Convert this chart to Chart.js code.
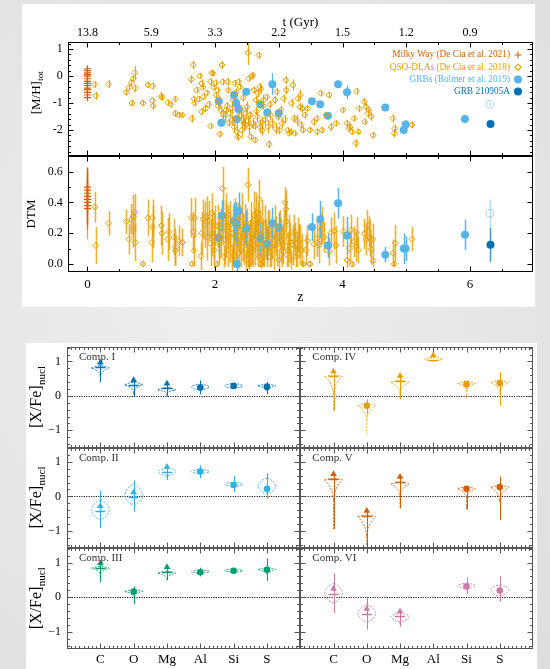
<!DOCTYPE html>
<html><head><meta charset="utf-8">
<title>Chart</title>
<script src="https://cdn.jsdelivr.net/npm/chart.js@4.4.1/dist/chart.umd.min.js"></script>
<style>
html,body{margin:0;padding:0}
body{width:550px;height:669px;position:relative;overflow:hidden;background:radial-gradient(ellipse at 40% 45%,#efefef 0%,#e6e6e6 60%,#dddddd 100%)}
.box{position:absolute;background:#fff}
canvas{position:absolute;left:0;top:0}
</style></head><body>
<div class="box" style="left:22px;top:4px;width:513px;height:303px"></div>
<div class="box" style="left:26px;top:343px;width:511px;height:326px"></div>
<canvas id="cMH" width="550" height="669"></canvas>
<canvas id="cDTM" width="550" height="669"></canvas>
<canvas id="p0" width="550" height="669"></canvas>
<canvas id="p1" width="550" height="669"></canvas>
<canvas id="p2" width="550" height="669"></canvas>
<canvas id="p3" width="550" height="669"></canvas>
<canvas id="p4" width="550" height="669"></canvas>
<canvas id="p5" width="550" height="669"></canvas>
<script>
// ---------------- DATA ----------------
const zTicksTop = [0,1,2,3,4,5,6];
const tLabels = ['13.8','5.9','3.3','2.2','1.5','1.2','0.9'];
const zTicksBottom = [0,2,4,6];
const mhTicks = [-2,-1,0,1];
const dtmTicks = [0,0.2,0.4,0.6];
const xfeTicks = [-1,0,1];
const legendLabels = ['Milky Way (De Cia et al. 2021)','QSO-DLAs (De Cia et al. 2018)','GRBs (Bolmer et al. 2019)','GRB 210905A'];

// [z, [M/H]tot, err]
const mwMH = [[0,0.27,0.05],[0,0.2,0.05],[0,0.12,0.05],[0,0.05,0.05],[0,0,0.05],[0,-0.1,0.05],[0,-0.2,0.05],[0,-0.27,0.05],[0,-0.35,0.05],[0,-0.45,0.05],[0,-0.5,0.05],[0,-0.6,0.05],[0,-0.7,0.05],[0,-0.8,0.05]];
const qsoMH = [[0.115,-0.31,0.12],[0.13,-0.73,0.15],[0.33,-0.30,0.15],[0.61,-0.60,0.12],[0.65,-0.42,0.1],[0.69,-0.25,0.12],[0.70,-1.00,0.12],[0.72,-0.10,0.1],[0.74,0.12,0.25],[0.75,-0.45,0.15],[0.87,-1.00,0.1],[0.95,-0.33,0.1],[1.02,-0.37,0.12],[1.02,-0.90,0.1],[1.03,-1.10,0.15],[1.16,-0.74,0.15],[1.17,-0.80,0.1],[1.26,-0.98,0.1],[1.31,-1.05,0.1],[1.38,-0.85,0.1],[1.38,-1.38,0.12],[1.43,-1.44,0.1],[1.49,-1.44,0.1],[1.63,-0.12,0.15],[1.64,-1.57,0.15],[1.66,0.41,0.15],[1.67,-0.86,0.12],[1.68,-1.00,0.12],[1.76,0.00,0.1],[1.79,-0.27,0.15],[1.81,-0.42,0.1],[1.79,-1.32,0.12],[1.82,-0.77,0.1],[1.87,-0.62,0.1],[1.93,-1.85,0.1],[1.95,0.12,0.1],[1.97,0.10,0.1],[1.93,-0.21,0.15],[1.98,-0.42,0.1],[2.01,-0.25,0.12],[2.04,-0.52,0.1],[2.06,-0.89,0.15],[2.08,-2.15,0.1],[2.09,-1.26,0.15],[2.11,0.41,0.15],[2.12,-0.21,0.12],[2.15,-1.50,0.2],[2.17,-1.26,0.1],[2.20,-0.21,0.15],[2.21,-0.52,0.1],[2.23,-1.38,0.15],[2.26,-1.63,0.2],[2.28,-0.89,0.2],[2.30,-1.88,0.2],[2.31,-0.27,0.12],[2.34,-2.06,0.25],[2.36,-2.25,0.15],[2.37,-0.21,0.12],[2.39,-0.40,0.1],[2.41,-1.26,0.2],[2.42,-2.00,0.3],[2.45,-1.75,0.25],[2.48,-1.38,0.2],[2.50,-1.14,0.2],[2.52,0.86,0.45],[2.53,-0.09,0.1],[2.54,-1.88,0.3],[2.56,-2.25,0.1],[2.58,-0.02,0.1],[2.59,0.04,0.1],[2.61,-0.52,0.12],[2.63,-2.37,0.1],[2.64,-0.89,0.15],[2.66,-1.50,0.2],[2.67,-0.64,0.15],[2.69,0.77,0.12],[2.70,-0.40,0.15],[2.71,-1.88,0.25],[2.72,-0.49,0.15],[2.74,-2.00,0.2],[2.76,-0.89,0.2],[2.78,-1.63,0.2],[2.81,-0.77,0.12],[2.83,-1.88,0.25],[2.85,-2.52,0.15],[2.87,-1.44,0.2],[2.90,-1.75,0.2],[2.94,-0.89,0.15],[2.97,-0.58,0.15],[2.99,-1.50,0.15],[3.01,-2.00,0.15],[3.03,-1.26,0.15],[3.05,-1.75,0.2],[3.08,-0.83,0.15],[3.11,-0.15,0.15],[3.12,-0.52,0.15],[3.14,-2.00,0.1],[3.16,-2.12,0.1],[3.19,-2.06,0.12],[3.22,-0.33,0.2],[3.24,-1.57,0.15],[3.25,-2.12,0.1],[3.28,-1.63,0.2],[3.30,-0.83,0.12],[3.33,-1.14,0.15],[3.34,-0.70,0.2],[3.37,-1.20,0.15],[3.38,-2.00,0.1],[3.41,-1.44,0.12],[3.45,-1.20,0.1],[3.49,-2.00,0.1],[3.55,-1.69,0.15],[3.60,-1.57,0.1],[3.60,-2.06,0.12],[3.66,-0.64,0.1],[3.68,-2.00,0.12],[3.74,-1.44,0.1],[3.79,-0.70,0.12],[3.82,-1.88,0.15],[3.90,-1.75,0.1],[4.01,-1.26,0.1],[4.07,-1.75,0.12],[4.10,-1.94,0.1],[4.12,-1.88,0.12],[4.15,-2.06,0.1],[4.18,-1.57,0.1],[4.21,-2.49,0.15],[4.22,-0.56,0.12],[4.25,-2.06,0.1],[4.26,-1.20,0.12],[4.34,-0.95,0.15],[4.35,-1.69,0.12],[4.37,-1.14,0.15],[4.40,-1.38,0.15],[4.41,-1.26,0.12],[4.45,-1.50,0.15],[4.48,-2.19,0.1],[4.79,-1.57,0.15],[4.81,-2.12,0.15],[4.82,-1.94,0.15],[5.09,-1.81,0.12],
[2.35,-1.55,0.15],[2.40,-1.45,0.2],[2.44,-1.60,0.2],[2.47,-1.80,0.2],[2.51,-1.65,0.2],[2.55,-1.45,0.15],[2.60,-1.75,0.2],[2.62,-1.85,0.15],[2.65,-1.30,0.15],[2.73,-1.70,0.2],[2.22,-1.72,0.15],[2.19,-1.10,0.15],[2.13,-1.40,0.15],[2.27,-1.20,0.2],[2.33,-0.60,0.15],[2.44,-0.80,0.15],[1.90,-1.05,0.12],[1.85,-1.20,0.12],[2.02,-0.70,0.1],[2.05,-1.10,0.12],[2.95,-1.95,0.2],[3.09,-1.60,0.15],[3.20,-1.00,0.15],[3.35,-1.80,0.12],[2.86,-1.05,0.15],[2.75,-1.10,0.15],[1.71,-0.52,0.12],[1.75,-0.85,0.1]];
const grbMH = [[2.06,-0.93,0.2],[2.10,-1.73,0.15],[2.30,-0.70,0.15],[2.33,-0.99,0.2],[2.34,-1.60,0.2],[2.37,-1.23,0.2],[2.49,-0.58,0.1],[2.71,-1.05,0.15],[2.82,-1.35,0.15],[2.90,-0.30,0.4],[3.00,-1.38,0.15],[3.52,-0.93,0.1],[3.65,-1.04,0.1],[3.77,-1.47,0.1],[3.93,-0.30,0.1],[4.07,-0.60,0.25],[4.67,-1.16,0.1],[4.96,-2.00,0.1],[4.99,-1.79,0.15],[5.92,-1.59,0.1]];
const grb210905aMH = [[6.32,-1.77,0.05]];
const grb210905aAltMH = [[6.31,-1.04,0.08]];

// [z, DTM, err]
const mwDTM = [[0,0.50,0.12],[0,0.48,0.15],[0,0.46,0.1],[0,0.44,0.18],[0,0.42,0.2],[0,0.40,0.15],[0,0.38,0.22],[0,0.36,0.1]];
const qsoDTM = [[0.115,0.37,0.1],[0.13,0.12,0.12],[0.33,0.265,0.08],[0.61,0.275,0.08],[0.65,0.16,0.1],[0.69,0.29,0.1],[0.71,0.225,0.12],[0.72,0.31,0.14],[0.74,0.335,0.12],[0.75,0.14,0.12],[0.87,0.0,0.01],[0.95,0.30,0.12],[1.01,0.14,0.13],[1.02,0.30,0.12],[1.02,0.24,0.14],[1.16,0.25,0.13],[1.17,0.20,0.14],[1.26,0.16,0.14],[1.28,0.21,0.12],[1.36,0.175,0.12],[1.38,0.11,0.12],[1.38,0.087,0.1],[1.43,0.15,0.1],[1.49,0.14,0.09],[1.63,0.30,0.13],[1.64,0.0,0.01],[1.66,0.21,0.13],[1.67,0.087,0.1],[1.68,0.30,0.13],[1.78,0.05,0.09],[1.79,0.20,0.14],[1.81,0.29,0.13],[1.84,0.255,0.15],[1.87,0.31,0.13],[1.88,0.175,0.15],[1.93,0.135,0.15],[1.95,0.33,0.13],[1.98,0.18,0.15],[1.99,0.09,0.12],[2.03,0.0,0.02],[2.04,0.245,0.14],[2.06,0.135,0.14],[2.09,0.20,0.16],[2.12,0.49,0.14],[2.14,0.048,0.07],[2.15,0.157,0.16],[2.17,0.31,0.15],[2.20,0.245,0.14],[2.21,0.09,0.11],[2.23,0.178,0.16],[2.26,0.026,0.07],[2.28,0.20,0.18],[2.30,0.113,0.13],[2.31,0.287,0.14],[2.34,0.157,0.16],[2.37,0.07,0.1],[2.39,0.222,0.16],[2.42,0.309,0.15],[2.45,0.135,0.14],[2.48,0.026,0.07],[2.50,0.20,0.16],[2.52,0.515,0.11],[2.53,0.113,0.15],[2.54,0.0,0.03],[2.56,0.265,0.14],[2.58,0.167,0.16],[2.60,0.091,0.11],[2.61,0.32,0.15],[2.63,0.222,0.14],[2.65,0.335,0.13],[2.67,0.13,0.15],[2.69,0.42,0.13],[2.70,0.048,0.07],[2.71,0.19,0.16],[2.72,0.0,0.03],[2.74,0.276,0.14],[2.76,0.135,0.15],[2.78,0.243,0.14],[2.81,0.09,0.11],[2.83,0.20,0.15],[2.86,0.048,0.07],[2.89,0.167,0.14],[2.92,0.09,0.13],[2.94,0.243,0.14],[2.97,0.124,0.14],[3.00,0.026,0.06],[3.03,0.157,0.14],[3.05,0.09,0.11],[3.08,0.222,0.13],[3.10,0.40,0.1],[3.11,0.357,0.12],[3.12,0.276,0.13],[3.14,0.091,0.11],[3.16,0.19,0.13],[3.19,0.026,0.06],[3.22,0.124,0.13],[3.25,0.157,0.11],[3.28,0.091,0.11],[3.30,0.19,0.11],[3.33,0.124,0.13],[3.36,0.091,0.1],[3.38,0.0,0.02],[3.42,0.091,0.1],[3.45,0.152,0.1],[3.49,0.0,0.02],[3.55,0.13,0.1],[3.60,0.167,0.12],[3.63,0.124,0.12],[3.67,0.222,0.1],[3.68,0.254,0.12],[3.71,0.174,0.1],[3.79,0.08,0.09],[3.82,0.204,0.1],[3.87,0.215,0.12],[3.90,0.124,0.12],[4.01,0.211,0.1],[4.07,0.026,0.05],[4.11,0.102,0.1],[4.13,0.222,0.1],[4.15,0.0,0.02],[4.18,0.146,0.1],[4.21,0.113,0.1],[4.22,0.204,0.1],[4.25,0.091,0.09],[4.34,0.196,0.1],[4.37,0.157,0.1],[4.39,0.252,0.1],[4.41,0.211,0.1],[4.43,0.167,0.12],[4.45,0.096,0.1],[4.47,0.161,0.1],[4.48,0.022,0.04],[4.79,0.07,0.09],[4.81,0.0,0.02],[4.83,0.135,0.12],[5.09,0.161,0.08],
[2.24,0.26,0.15],[2.29,0.06,0.08],[2.33,0.19,0.18],[2.36,0.25,0.15],[2.41,0.09,0.11],[2.44,0.18,0.15],[2.47,0.26,0.13],[2.51,0.06,0.08],[2.55,0.14,0.15],[2.57,0.08,0.1],[2.62,0.12,0.13],[2.66,0.18,0.15],[2.68,0.27,0.13],[2.73,0.11,0.13],[2.77,0.05,0.07],[2.80,0.16,0.13],[2.85,0.22,0.13],[2.88,0.11,0.13],[2.96,0.18,0.13],[3.02,0.22,0.13],[3.07,0.13,0.13],[3.13,0.06,0.08],[3.18,0.14,0.13],[3.24,0.21,0.11],[3.27,0.05,0.07],[3.32,0.15,0.11],[2.18,0.22,0.18],[2.13,0.27,0.15],[2.07,0.18,0.15],[2.00,0.25,0.13],[1.96,0.20,0.15],[1.91,0.28,0.13]];
const grbDTM = [[2.06,0.17,0.1],[2.11,0.315,0.1],[2.30,0.28,0.12],[2.33,0.26,0.14],[2.34,0.0,0.05],[2.37,0.345,0.12],[2.49,0.23,0.12],[2.71,0.165,0.12],[2.82,0.13,0.11],[2.90,0.265,0.1],[3.00,0.235,0.1],[3.52,0.24,0.09],[3.65,0.29,0.12],[3.77,0.12,0.08],[3.93,0.395,0.1],[4.07,0.185,0.12],[4.67,0.06,0.05],[4.96,0.10,0.1],[4.99,0.10,0.08],[5.92,0.19,0.1]];
const grb210905aDTM = [[6.32,0.125,0.11]];
const grb210905aAltDTM = [[6.31,0.33,0.09]];

// Bottom panels: elements, marker value, lower-limit flag, error [lo,hi], violin [type, top, widest, tip, tail]
const elements = ['C','O','Mg','Al','Si','S'];
const compNames = ['Comp. I','Comp. II','Comp. III','Comp. IV','Comp. V','Comp. VI'];
const comp1Val = [0.97,0.46,0.36,0.24,0.29,0.26];
const comp1Lim = [1,1,1,0,0,0];
const comp1Err = [[0.39,0.97],[-0.02,0.46],[-0.02,0.36],[0.05,0.45],[0.20,0.36],[0.05,0.40]];
const comp1Vio = [['f',0.87,0.81,0.58,0.39],['f',0.39,0.32,0.10,-0.02],['f',0.24,0.17,0.07,-0.02],['d',0.34,0.26,0.17,0.17],['d',0.36,0.29,0.22,0.22],['f',0.34,0.29,0.15,0.15]];
const comp2Val = [-0.28,0.12,0.86,0.72,0.33,0.22];
const comp2Lim = [1,1,1,0,0,0];
const comp2Err = [[-0.92,0.17],[-0.45,0.46],[0.48,0.86],[0.53,0.90],[0.12,0.60],[-0.07,0.67]];
const comp2Vio = [['d',-0.11,-0.38,-0.69,-0.69],['d',0.36,0.03,-0.26,-0.26],['d',0.82,0.72,0.60,0.48],['d',0.79,0.72,0.66,0.66],['d',0.41,0.35,0.29,0.29],['d',0.53,0.29,0.08,0.08]];
const comp3Val = [0.98,0.16,0.87,0.72,0.76,0.79];
const comp3Lim = [1,0,1,0,0,0];
const comp3Err = [[0.43,0.98],[-0.20,0.31],[0.49,0.87],[0.60,0.85],[0.68,0.84],[0.47,1.12]];
const comp3Vio = [['f',0.88,0.84,0.66,0.43],['f',0.21,0.16,0.02,0.02],['f',0.74,0.69,0.55,0.49],['d',0.79,0.74,0.69,0.69],['d',0.82,0.77,0.72,0.72],['f',0.84,0.80,0.64,0.64]];
const comp4Val = [0.71,-0.29,0.58,1.18,0.34,0.37];
const comp4Lim = [1,0,1,1,0,0];
const comp4Err = [[-0.44,0.71],[-0.53,-0.10],[-0.10,0.58],null,[0.20,0.45],[-0.29,0.68]];
const comp4Vio = [['f',0.60,0.55,0.07,-0.44],['f',-0.22,-0.29,-0.68,-1.12],['f',0.44,0.39,0.10,-0.10],['d',1.12,1.07,1.02,1.02],['f',0.41,0.36,0.17,-0.05],['f',0.44,0.39,0.10,0.10]];
const comp5Val = [0.65,-0.42,0.57,null,0.22,0.27];
const comp5Lim = [1,1,1,0,0,0];
const comp5Err = [[-0.95,0.65],[-1.45,-0.42],[-0.35,0.57],null,[-0.38,0.30],[-0.69,0.57]];
const comp5Vio = [['f',0.52,0.48,-0.11,-0.95],['f',-0.54,-0.59,-1.16,-1.45],['f',0.41,0.36,0.03,-0.35],null,['f',0.27,0.22,-0.02,-0.38],['f',0.31,0.27,-0.16,-0.16]];
const comp6Val = [0.24,-0.34,-0.41,null,0.31,0.19];
const comp6Lim = [1,1,1,0,0,0];
const comp6Err = [[-0.46,0.69],[-0.94,0.02],[-0.85,-0.41],null,[0.09,0.57],[-0.14,0.60]];
const comp6Vio = [['d',0.40,0.12,-0.17,-0.17],['d',-0.22,-0.46,-0.72,-0.72],['d',-0.46,-0.56,-0.72,-0.85],null,['d',0.40,0.33,0.24,0.24],['d',0.36,0.21,0.02,0.02]];

// ---------------- STYLE / LAYOUT ----------------
const F = "'Liberation Serif','Times New Roman',Times,serif";
Chart.defaults.font.family = F;
Chart.defaults.color = '#000';
const cMW='#D55E00', cQSO='#E69F00', cGRB='#56B4E9', cNew='#0072B2';
const compColors = ['#0072B2','#2CB0E6','#009E73','#E69F00','#D55E00','#CC79A7'];
const X0=67.7, X1=533.2, mhTop=42.3, mhBot=156.3, dtmBot=271.7;
const zMin=-0.31, zMax=6.99;
const rowTop=[347,447.5,548], rowBot=[447.5,548,649], colL=[67,300.3], colR=[300.3,533];

function pts(a){return a.map(p=>({x:p[0],y:p[1]}));}
function errs(a){return a.map(p=>p[2]);}
function rng(a,b,s){const r=[];for(let i=0;;i++){const v=+(a+i*s).toFixed(4);if(v>b+1e-9)break;r.push(v);}return r;}
function setTicks(list){return s=>{s.ticks=list.map(v=>({value:v}));};}
const noGrid={display:false,drawTicks:false};

// ---------------- PLUGINS ----------------
const frameTicks = {
  id:'frameTicks',
  afterDatasetsDraw(chart,args,o){
    const {ctx,chartArea:a}=chart;
    const L=Math.round(a.left)+0.5,R=Math.round(a.right)-0.5,T=Math.round(a.top)+0.5,B=Math.round(a.bottom)-0.5;
    ctx.save();ctx.strokeStyle=o.color;ctx.lineWidth=1;ctx.beginPath();
    (o.sides||[]).forEach(s=>{
      const sc=chart.scales[s.scale];
      const put=(v,len)=>{const p=Math.round(sc.getPixelForValue(v))+0.5;
        if(s.side==='top'){ctx.moveTo(p,T);ctx.lineTo(p,T+len);}
        else if(s.side==='bottom'){ctx.moveTo(p,B);ctx.lineTo(p,B-len);}
        else if(s.side==='left'){ctx.moveTo(L,p);ctx.lineTo(L+len,p);}
        else {ctx.moveTo(R,p);ctx.lineTo(R-len,p);}};
      s.minor.forEach(v=>put(v,o.minLen));s.major.forEach(v=>put(v,o.majLen));
    });
    ctx.stroke();ctx.strokeRect(L,T,R-L,B-T);ctx.restore();
  }
};
const errorBars = {
  id:'errorBars',
  beforeDatasetsDraw(chart){
    const {ctx,chartArea:a}=chart;
    ctx.save();ctx.beginPath();ctx.rect(a.left,a.top,a.right-a.left,a.bottom-a.top);ctx.clip();
    chart.data.datasets.forEach(ds=>{
      if(!ds.errs)return;
      const xs=chart.scales.x, ys=chart.scales.y;
      ctx.strokeStyle=ds.errColor;ctx.lineWidth=ds.errWidth||1;
      ds.errs.forEach((e,i)=>{const p=ds.data[i];const px=Math.round(xs.getPixelForValue(p.x))+0.5;
        ctx.beginPath();ctx.moveTo(px,ys.getPixelForValue(p.y-e));ctx.lineTo(px,ys.getPixelForValue(p.y+e));ctx.stroke();});
    });
    ctx.restore();
  }
};
function subLabel(ctx,cx,cy,main,sub,size,subSize){
  ctx.save();ctx.translate(cx,cy);ctx.rotate(-Math.PI/2);
  ctx.font=size+'px '+F;const w1=ctx.measureText(main).width;
  ctx.font=subSize+'px '+F;const w2=ctx.measureText(sub).width;
  const x0=-(w1+w2)/2;ctx.textBaseline='middle';ctx.textAlign='left';ctx.fillStyle='#000';
  ctx.font=size+'px '+F;ctx.fillText(main,x0,0);
  ctx.font=subSize+'px '+F;ctx.fillText(sub,x0+w1+0.5,size*0.3);
  ctx.restore();
}
function marker(ctx,kind,x,y,color){
  ctx.save();ctx.strokeStyle=color;ctx.fillStyle=color;ctx.lineWidth=1.1;ctx.beginPath();
  if(kind==='cross'){ctx.moveTo(x-3.5,y);ctx.lineTo(x+3.5,y);ctx.moveTo(x,y-3.5);ctx.lineTo(x,y+3.5);ctx.stroke();}
  else if(kind==='diamond'){ctx.moveTo(x,y-3);ctx.lineTo(x+3,y);ctx.lineTo(x,y+3);ctx.lineTo(x-3,y);ctx.closePath();ctx.stroke();}
  else {ctx.arc(x,y,4,0,Math.PI*2);ctx.fill();}
  ctx.restore();
}
const mhDeco = {
  id:'mhDeco',
  afterDraw(chart){
    const ctx=chart.ctx;
    subLabel(ctx,37,93,'[M/H]','tot',13,9);
    const cols=[cMW,cQSO,cGRB,cNew], kinds=['cross','diamond','circle','circle'];
    ctx.save();ctx.font='9.3px '+F;ctx.textAlign='right';ctx.textBaseline='middle';
    legendLabels.forEach((t,i)=>{const y=55+i*12.2;ctx.fillStyle=cols[i];ctx.fillText(t,510,y);marker(ctx,kinds[i],518,y,cols[i]);});
    ctx.restore();
  }
};
const VHW=0.27;
function violin(ctx,cx,hw,type,T,Wp,Np){
  ctx.beginPath();
  if(type==='f'){
    ctx.moveTo(cx-hw,Wp);
    ctx.quadraticCurveTo(cx,2*T-Wp,cx+hw,Wp);
    ctx.quadraticCurveTo(cx+hw*0.12,Wp+(Np-Wp)*0.35,cx,Np);
    ctx.quadraticCurveTo(cx-hw*0.12,Wp+(Np-Wp)*0.35,cx-hw,Wp);
  } else {
    ctx.moveTo(cx,T);
    ctx.quadraticCurveTo(cx+hw*0.85,T+(Wp-T)*0.3,cx+hw,Wp);
    ctx.quadraticCurveTo(cx+hw*0.85,Np-(Np-Wp)*0.3,cx,Np);
    ctx.quadraticCurveTo(cx-hw*0.85,Np-(Np-Wp)*0.3,cx-hw,Wp);
    ctx.quadraticCurveTo(cx-hw*0.85,T+(Wp-T)*0.3,cx,T);
  }
  ctx.closePath();ctx.stroke();
}
const panelDeco = {
  id:'panelDeco',
  beforeDatasetsDraw(chart,args,o){
    const {ctx,chartArea:a,scales:{x,y}}=chart;
    ctx.save();ctx.beginPath();ctx.rect(a.left,a.top,a.right-a.left,a.bottom-a.top);ctx.clip();
    const y0=Math.round(y.getPixelForValue(0))+0.5;
    ctx.strokeStyle='#000';ctx.lineWidth=0.9;ctx.setLineDash([1.2,1.2]);
    ctx.beginPath();ctx.moveTo(a.left,y0);ctx.lineTo(a.right,y0);ctx.stroke();
    ctx.strokeStyle=o.color;ctx.lineWidth=0.9;ctx.setLineDash([2,1.4]);
    o.vio.forEach((v,i)=>{ if(!v)return;
      const cx=x.getPixelForValue(i+1), hw=x.getPixelForValue(i+1+VHW)-cx;
      const T=y.getPixelForValue(v[1]),Wp=y.getPixelForValue(v[2]),Np=y.getPixelForValue(v[3]),Bp=y.getPixelForValue(v[4]);
      violin(ctx,cx,hw,v[0],T,Wp,Np);
      if(Bp>Np+0.5){ctx.beginPath();ctx.moveTo(cx,Np);ctx.lineTo(cx,Bp);ctx.stroke();}
    });
    ctx.setLineDash([]);ctx.lineWidth=1;
    o.err.forEach((e,i)=>{ if(!e)return; const cx=Math.round(x.getPixelForValue(i+1))+0.5;
      ctx.beginPath();ctx.moveTo(cx,y.getPixelForValue(e[0]));ctx.lineTo(cx,y.getPixelForValue(e[1]));ctx.stroke();});
    ctx.lineWidth=1.3;
    o.lim.forEach((l,i)=>{ if(!l||o.val[i]===null)return; const cx=x.getPixelForValue(i+1), py=Math.round(y.getPixelForValue(o.val[i]))+5.5;
      ctx.beginPath();ctx.moveTo(cx-5,py);ctx.lineTo(cx+5,py);ctx.stroke();});
    ctx.restore();
  },
  afterDraw(chart,args,o){
    const {ctx,chartArea:a}=chart;
    ctx.save();ctx.font='11px '+F;ctx.fillStyle='#333';ctx.textAlign='left';ctx.textBaseline='middle';
    ctx.fillText(o.label,a.left+12,a.top+10.5);ctx.restore();
    if(o.ylab) subLabel(ctx,37,(a.top+a.bottom)/2,'[X/Fe]','nucl',16,11);
  }
};

function baseOptions(pad){return {responsive:false,devicePixelRatio:1,animation:false,events:[],layout:{padding:pad},plugins:{legend:{display:false},tooltip:{enabled:false}}};}

// ---------------- TOP: [M/H] ----------------
(function(){
  const opt=baseOptions({left:0,top:0,right:550-X1,bottom:669-mhBot});
  opt.scales={
    x:{type:'linear',min:zMin,max:zMax,display:false},
    xt:{type:'linear',position:'top',min:zMin,max:zMax,afterFit:s=>{s.height=mhTop;},afterBuildTicks:setTicks(zTicksTop),
      grid:noGrid,border:{display:false},
      ticks:{autoSkip:false,maxRotation:0,padding:2,font:{size:12},color:'#000',callback:v=>tLabels[zTicksTop.indexOf(v)]},
      title:{display:true,text:'t (Gyr)',font:{size:13},color:'#000',padding:{top:15,bottom:0}}},
    y:{type:'linear',min:-2.97,max:1.25,afterFit:s=>{s.width=X0;},afterBuildTicks:setTicks(mhTicks),
      grid:noGrid,border:{display:false},ticks:{padding:5,font:{size:12},color:'#000',callback:v=>String(v)}}
  };
  opt.plugins.frameTicks={color:'#000',majLen:5,minLen:2.5,sides:[
    {side:'top',scale:'x',major:zTicksTop,minor:rng(0,6.5,0.5)},
    {side:'bottom',scale:'x',major:rng(0,6,2),minor:rng(0,6.5,0.5)},
    {side:'left',scale:'y',major:mhTicks,minor:rng(-2.8,1.2,0.2)},
    {side:'right',scale:'y',major:mhTicks,minor:rng(-2.8,1.2,0.2)}]};
  new Chart(document.getElementById('cMH'),{type:'scatter',data:{datasets:[
    {data:pts(qsoMH),errs:errs(qsoMH),errColor:'rgba(230,159,0,0.9)',errWidth:1.2,pointStyle:'rectRot',pointRadius:3,pointBorderWidth:1,pointBorderColor:cQSO,pointBackgroundColor:'rgba(255,255,255,0)'},
    {data:pts(mwMH),errs:errs(mwMH),errColor:cMW,pointStyle:'cross',pointRadius:3.5,pointBorderWidth:1.2,pointBorderColor:cMW,pointBackgroundColor:cMW},
    {data:pts(grbMH),errs:errs(grbMH),errColor:cGRB,errWidth:1.3,pointStyle:'circle',pointRadius:4,pointBorderWidth:0,pointBackgroundColor:cGRB,pointBorderColor:cGRB},
    {data:pts(grb210905aAltMH),errs:errs(grb210905aAltMH),errColor:'rgba(86,180,233,0.45)',pointStyle:'circle',pointRadius:4,pointBorderWidth:1,pointBackgroundColor:'rgba(255,255,255,0)',pointBorderColor:'rgba(86,180,233,0.5)'},
    {data:pts(grb210905aMH),errs:errs(grb210905aMH),errColor:cNew,pointStyle:'circle',pointRadius:4,pointBorderWidth:0,pointBackgroundColor:cNew,pointBorderColor:cNew}
  ]},options:opt,plugins:[errorBars,frameTicks,mhDeco]});
})();

// ---------------- TOP: DTM ----------------
(function(){
  const opt=baseOptions({left:0,top:mhBot,right:550-X1,bottom:669-dtmBot-34});
  opt.scales={
    x:{type:'linear',position:'bottom',min:zMin,max:zMax,afterFit:s=>{s.height=34;},afterBuildTicks:setTicks(zTicksBottom),
      grid:noGrid,border:{display:false},ticks:{autoSkip:false,maxRotation:0,padding:5.5,font:{size:13},color:'#000',callback:v=>String(v)},
      title:{display:true,text:'z',font:{size:14},color:'#000',padding:0}},
    y:{type:'linear',min:-0.05,max:0.70,afterFit:s=>{s.width=X0;},afterBuildTicks:setTicks(dtmTicks),
      grid:noGrid,border:{display:false},ticks:{padding:5,font:{size:12},color:'#000',callback:v=>v.toFixed(1)},
      title:{display:true,text:'DTM',font:{size:13},color:'#000',padding:{top:23.7,bottom:0}}}
  };
  opt.plugins.frameTicks={color:'#000',majLen:5,minLen:2.5,sides:[
    {side:'top',scale:'x',major:rng(0,6,2),minor:rng(0,6.5,0.5)},
    {side:'bottom',scale:'x',major:rng(0,6,2),minor:rng(0,6.5,0.5)},
    {side:'left',scale:'y',major:dtmTicks,minor:rng(0,0.7,0.1)},
    {side:'right',scale:'y',major:dtmTicks,minor:rng(0,0.7,0.1)}]};
  new Chart(document.getElementById('cDTM'),{type:'scatter',data:{datasets:[
    {data:pts(qsoDTM),errs:errs(qsoDTM),errColor:'rgba(230,159,0,0.8)',errWidth:1.6,pointStyle:'rectRot',pointRadius:3,pointBorderWidth:1,pointBorderColor:cQSO,pointBackgroundColor:'rgba(255,255,255,0)'},
    {data:pts(mwDTM),errs:errs(mwDTM),errColor:'rgba(213,94,0,0.6)',errWidth:1.3,pointStyle:'cross',pointRadius:3.5,pointBorderWidth:1.2,pointBorderColor:cMW,pointBackgroundColor:cMW},
    {data:pts(grbDTM),errs:errs(grbDTM),errColor:cGRB,errWidth:1.5,pointStyle:'circle',pointRadius:4,pointBorderWidth:0,pointBackgroundColor:cGRB,pointBorderColor:cGRB},
    {data:pts(grb210905aAltDTM),errs:errs(grb210905aAltDTM),errColor:'rgba(86,180,233,0.45)',errWidth:1.5,pointStyle:'circle',pointRadius:4,pointBorderWidth:1,pointBackgroundColor:'rgba(255,255,255,0)',pointBorderColor:'rgba(86,180,233,0.5)'},
    {data:pts(grb210905aDTM),errs:errs(grb210905aDTM),errColor:'rgba(0,114,178,0.75)',errWidth:1.5,pointStyle:'circle',pointRadius:4,pointBorderWidth:0,pointBackgroundColor:cNew,pointBorderColor:cNew}
  ]},options:opt,plugins:[errorBars,frameTicks]});
})();

// ---------------- BOTTOM PANELS ----------------
const comps=[
  {val:comp1Val,lim:comp1Lim,err:comp1Err,vio:comp1Vio,row:0,col:0},
  {val:comp2Val,lim:comp2Lim,err:comp2Err,vio:comp2Vio,row:1,col:0},
  {val:comp3Val,lim:comp3Lim,err:comp3Err,vio:comp3Vio,row:2,col:0},
  {val:comp4Val,lim:comp4Lim,err:comp4Err,vio:comp4Vio,row:0,col:1},
  {val:comp5Val,lim:comp5Lim,err:comp5Err,vio:comp5Vio,row:1,col:1},
  {val:comp6Val,lim:comp6Lim,err:comp6Err,vio:comp6Vio,row:2,col:1}
];
comps.forEach((c,k)=>{
  const showX=c.row===2, showY=c.col===0, color=compColors[k];
  const opt=baseOptions({left:c.col===0?0:colL[1],top:rowTop[c.row],right:550-colR[c.col],bottom:669-rowBot[c.row]-(showX?20:0)});
  const xs={type:'linear',min:0,max:7,display:showX,grid:noGrid,border:{display:false},afterBuildTicks:setTicks([1,2,3,4,5,6]),
    ticks:{autoSkip:false,maxRotation:0,padding:3,font:{size:13},color:'#000',callback:v=>elements[v-1]}};
  if(showX) xs.afterFit=s=>{s.height=20;};
  const ys={type:'linear',min:-1.5,max:1.42,display:showY,grid:noGrid,border:{display:false},afterBuildTicks:setTicks(xfeTicks),
    ticks:{padding:6,font:{size:12},color:'#000',callback:v=>v<0?'\u2212'+Math.abs(v):String(v)}};
  if(showY) ys.afterFit=s=>{s.width=colL[0];};
  opt.scales={x:xs,y:ys};
  opt.plugins.frameTicks={color:'#555',majLen:5,minLen:2.5,sides:[
    {side:'top',scale:'x',major:rng(1,6,1),minor:rng(0.125,6.875,0.125)},
    {side:'bottom',scale:'x',major:rng(1,6,1),minor:rng(0.125,6.875,0.125)},
    {side:'left',scale:'y',major:xfeTicks,minor:rng(-1.4,1.4,0.2)},
    {side:'right',scale:'y',major:xfeTicks,minor:rng(-1.4,1.4,0.2)}]};
  opt.plugins.panelDeco={color:color,val:c.val,lim:c.lim,err:c.err,vio:c.vio,label:compNames[k],ylab:showY};
  const meas=[],lims=[];
  c.val.forEach((v,i)=>{ if(v===null)return; (c.lim[i]?lims:meas).push({x:i+1,y:v}); });
  new Chart(document.getElementById('p'+k),{type:'scatter',data:{datasets:[
    {data:meas,pointStyle:'circle',pointRadius:3.3,pointBorderWidth:0,pointBackgroundColor:color,pointBorderColor:color},
    {data:lims,pointStyle:'triangle',pointRadius:3.8,pointBorderWidth:0,pointBackgroundColor:color,pointBorderColor:color}
  ]},options:opt,plugins:[panelDeco,frameTicks]});
});
</script>
</body></html>
